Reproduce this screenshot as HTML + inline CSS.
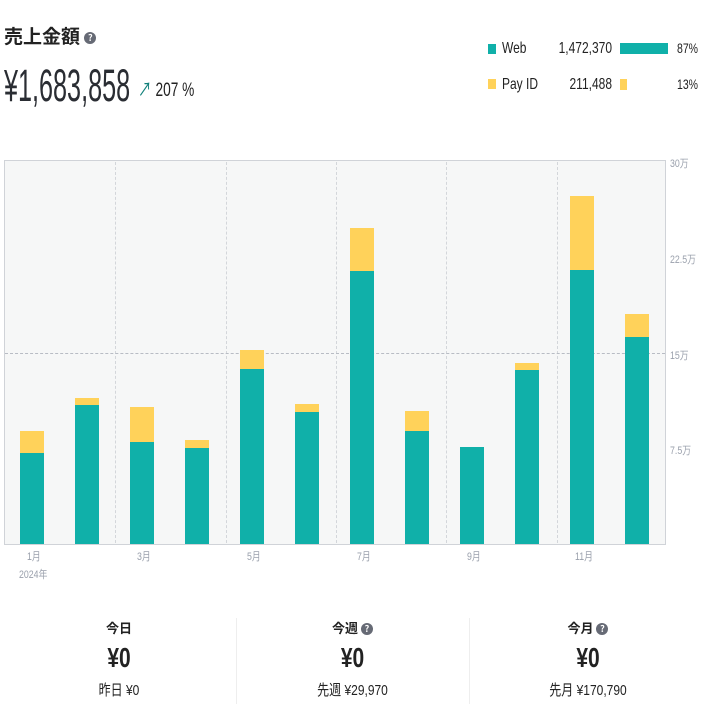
<!DOCTYPE html>
<html><head><meta charset="utf-8"><style>
body{margin:0;width:706px;height:706px;background:#fff;position:relative;overflow:hidden;font-family:"Liberation Sans","Noto Sans CJK JP",sans-serif;color:#222}
.a{position:absolute;white-space:nowrap}
.sl{transform-origin:left center}
.sr{transform-origin:right center;text-align:right}
.sc{transform-origin:center center;text-align:center}
.q{display:inline-block;width:12px;height:12px;border-radius:50%;background:#666a75;color:#fff;font-size:9px;text-align:center;line-height:12px;vertical-align:middle}
.b{position:absolute;width:24px}
.w{background:#10b0a9}.y{background:#ffd25a}
.yl{position:absolute;left:670px;font-size:11px;color:#9aa0ac;transform:scaleX(.8);transform-origin:left}
.xl{position:absolute;font-size:11px;color:#9aa0ac;top:548px;transform:scaleX(.8);transform-origin:left}
.vg{position:absolute;top:162px;height:381px;border-left:1px dashed #d3d6da}
</style></head><body>
<div class="a" style="left:4px;top:22px;font-size:19px;font-weight:bold;font-family:'Noto Sans CJK JP',sans-serif">売上金額 <span class="q">?</span></div>
<div class="a sl" style="left:4px;top:60px;font-size:45px;color:#2a2d33;transform:scaleX(.56)">¥1,683,858</div>
<div class="a sl" style="left:138px;top:75px;font-size:19px;transform:scaleX(.72)"><span style="color:#10807a">↗</span> 207 %</div>
<div class="a" style="left:488px;top:44px;width:8px;height:10px;background:#10b0a9"></div>
<div class="a sl" style="left:502px;top:40px;font-size:16px;transform:scaleX(.75)">Web</div>
<div class="a sr" style="left:512px;width:100px;top:40px;font-size:16px;transform:scaleX(.75)">1,472,370</div>
<div class="a" style="left:620px;top:43px;width:48px;height:11px;background:#10b0a9"></div>
<div class="a sr" style="left:640px;width:58px;top:40px;font-size:14px;transform:scaleX(.75)">87%</div>
<div class="a" style="left:488px;top:79px;width:8px;height:10px;background:#ffd25a"></div>
<div class="a sl" style="left:502px;top:76px;font-size:16px;transform:scaleX(.75)">Pay ID</div>
<div class="a sr" style="left:512px;width:100px;top:76px;font-size:16px;transform:scaleX(.75)">211,488</div>
<div class="a" style="left:620px;top:79px;width:7px;height:11px;background:#ffd25a"></div>
<div class="a sr" style="left:640px;width:58px;top:76px;font-size:14px;transform:scaleX(.75)">13%</div>

<div class="a" style="left:4px;top:160px;width:660px;height:383px;background:#f6f7f7;border:1px solid #d0d3d8"></div>
<div class="vg" style="left:115px"></div><div class="vg" style="left:226px"></div><div class="vg" style="left:336px"></div><div class="vg" style="left:446px"></div><div class="vg" style="left:557px"></div>
<div class="a" style="left:5px;top:353px;width:660px;border-top:1px dashed #b8bcc4"></div>
<div class="yl" style="top:155px">30万</div><div class="yl" style="top:251px">22.5万</div><div class="yl" style="top:347px">15万</div><div class="yl" style="top:442px">7.5万</div>

<div class="b y" style="left:20px;top:431px;height:22px"></div><div class="b w" style="left:20px;top:453px;height:91px"></div>
<div class="b y" style="left:75px;top:398px;height:7px"></div><div class="b w" style="left:75px;top:405px;height:139px"></div>
<div class="b y" style="left:130px;top:407px;height:35px"></div><div class="b w" style="left:130px;top:442px;height:102px"></div>
<div class="b y" style="left:185px;top:440px;height:8px"></div><div class="b w" style="left:185px;top:448px;height:96px"></div>
<div class="b y" style="left:240px;top:350px;height:19px"></div><div class="b w" style="left:240px;top:369px;height:175px"></div>
<div class="b y" style="left:295px;top:404px;height:8px"></div><div class="b w" style="left:295px;top:412px;height:132px"></div>
<div class="b y" style="left:350px;top:228px;height:43px"></div><div class="b w" style="left:350px;top:271px;height:273px"></div>
<div class="b y" style="left:405px;top:411px;height:20px"></div><div class="b w" style="left:405px;top:431px;height:113px"></div>
<div class="b w" style="left:460px;top:447px;height:97px"></div>
<div class="b y" style="left:515px;top:363px;height:7px"></div><div class="b w" style="left:515px;top:370px;height:174px"></div>
<div class="b y" style="left:570px;top:196px;height:74px"></div><div class="b w" style="left:570px;top:270px;height:274px"></div>
<div class="b y" style="left:625px;top:314px;height:23px"></div><div class="b w" style="left:625px;top:337px;height:207px"></div>

<div class="xl" style="left:27px">1月</div><div class="xl" style="left:19px;top:566px">2024年</div>
<div class="xl" style="left:137px">3月</div><div class="xl" style="left:247px">5月</div><div class="xl" style="left:357px">7月</div><div class="xl" style="left:467px">9月</div><div class="xl" style="left:575px">11月</div>

<div class="a" style="left:236px;top:618px;height:86px;border-left:1px solid #eee"></div>
<div class="a" style="left:469px;top:618px;height:86px;border-left:1px solid #eee"></div>
<div class="a" style="left:0;top:618px;width:238px;text-align:center;font-size:13px;font-weight:bold;font-family:'Noto Sans CJK JP',sans-serif">今日</div>
<div class="a" style="left:235px;top:618px;width:235px;text-align:center;font-size:13px;font-weight:bold;font-family:'Noto Sans CJK JP',sans-serif">今週 <span class="q">?</span></div>
<div class="a" style="left:470px;top:618px;width:236px;text-align:center;font-size:13px;font-weight:bold;font-family:'Noto Sans CJK JP',sans-serif">今月 <span class="q">?</span></div>
<div class="a sc" style="left:0;top:642px;width:238px;font-size:28px;font-weight:bold;transform:scaleX(.75)">¥0</div>
<div class="a sc" style="left:235px;top:642px;width:235px;font-size:28px;font-weight:bold;transform:scaleX(.75)">¥0</div>
<div class="a sc" style="left:470px;top:642px;width:236px;font-size:28px;font-weight:bold;transform:scaleX(.75)">¥0</div>
<div class="a sc" style="left:0;top:679px;width:238px;font-size:15px;transform:scaleX(.8)">昨日 ¥0</div>
<div class="a sc" style="left:235px;top:679px;width:235px;font-size:15px;transform:scaleX(.8)">先週 ¥29,970</div>
<div class="a sc" style="left:470px;top:679px;width:236px;font-size:15px;transform:scaleX(.8)">先月 ¥170,790</div>
</body></html>
